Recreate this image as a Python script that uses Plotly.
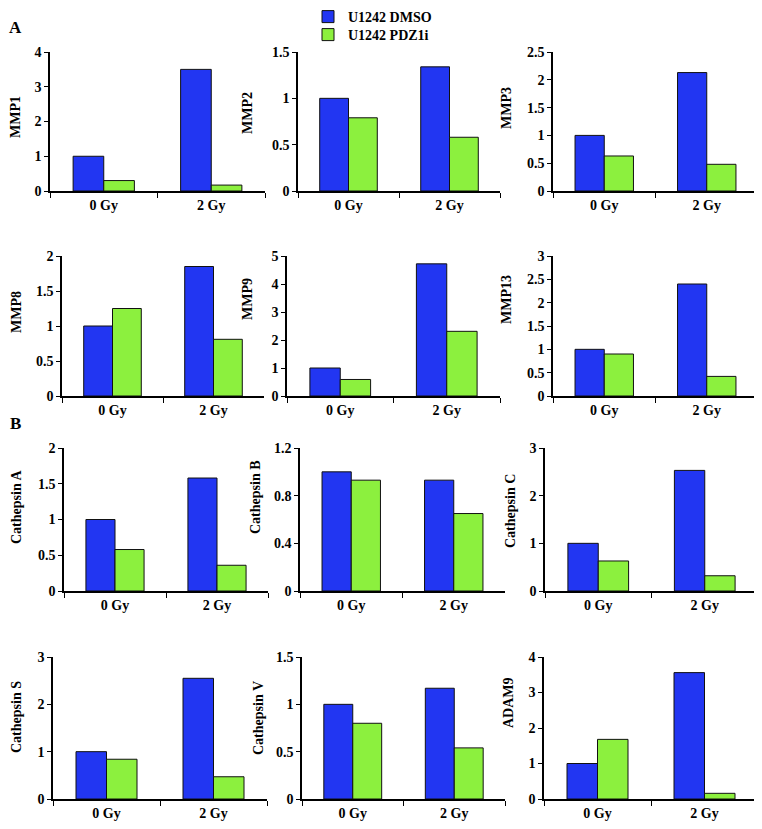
import plotly.graph_objects as go
from plotly.subplots import make_subplots

# the page body has an 8px margin, so the figure is drawn 8px in from the
# window corner; positions below are window pixels and get shifted by OFF
OFF = 8
W, H = 762 - OFF, 829 - OFF


def px_x(v):
    return (v - OFF) / W


def px_y(v):
    return 1 - (v - OFF) / H


doses = ["0 Gy", "2 Gy"]
genes = ["MMP1", "MMP2", "MMP3", "MMP8", "MMP9", "MMP13",
         "Cathepsin A", "Cathepsin B", "Cathepsin C",
         "Cathepsin S", "Cathepsin V", "ADAM9"]

dmso = [[1.0, 3.5], [1.0, 1.34], [1.0, 2.13],
        [1.0, 1.85], [1.0, 4.72], [1.0, 2.40],
        [1.0, 1.58], [1.0, 0.93], [1.0, 2.53],
        [1.0, 2.55], [1.0, 1.17], [1.0, 3.56]]
pdz1i = [[0.30, 0.17], [0.79, 0.58], [0.63, 0.48],
         [1.25, 0.81], [0.59, 2.31], [0.90, 0.42],
         [0.58, 0.36], [0.93, 0.65], [0.63, 0.32],
         [0.84, 0.47], [0.80, 0.54], [1.68, 0.16]]

y_max = [4, 1.5, 2.5, 2, 5, 3, 2, 1.2, 3, 3, 1.5, 4]
y_step = [1, 0.5, 0.5, 0.5, 1, 0.5, 0.5, 0.4, 1, 1, 0.5, 1]

# panel boxes in pixels: (x0, x1) per row/col, (top, bottom) per row
row_y = [(52, 191), (256, 396), (448, 591), (657, 799)]
col_x = [[(50, 265), (298, 500), (553, 758)],
         [(62, 264), (287, 500), (553, 758)],
         [(64, 268), (300, 505), (545, 758)],
         [(53, 267), (302, 505), (544, 758)]]
# y-title centres in pixels
title_pos = [(16, 117), (248, 113), (506, 108),
             (16, 312), (248, 299), (507, 300),
             (16, 507), (255, 497), (510, 511),
             (16, 717), (258, 718), (508, 703)]

BLUE = "#2236f2"
GREEN = "#8cf03e"
FONT = "Liberation Serif"

fig = make_subplots(rows=4, cols=3)

for i, g in enumerate(genes):
    r, c = i // 3 + 1, i % 3 + 1
    fig.add_trace(go.Bar(x=doses, y=dmso[i], name="U1242 DMSO",
                         marker=dict(color=BLUE, line=dict(color="#111111", width=1)),
                         showlegend=(i == 0), legend="legend"), row=r, col=c)
    fig.add_trace(go.Bar(x=doses, y=pdz1i[i], name="U1242 PDZ1i",
                         marker=dict(color=GREEN, line=dict(color="#111111", width=1)),
                         showlegend=(i == 0), legend="legend2"), row=r, col=c)
    n = "" if i == 0 else str(i + 1)
    x0, x1 = col_x[r - 1][c - 1]
    t, b = row_y[r - 1]
    fig.layout["xaxis" + n].update(
        domain=[px_x(x0), px_x(x1)], showline=True, linecolor="black", linewidth=1.5,
        ticks="outside", tickson="boundaries", ticklen=5, tickcolor="black",
        tickfont=dict(family=FONT, size=14, color="black", weight="bold"),
        showgrid=False, zeroline=False, automargin=False)
    fig.layout["yaxis" + n].update(
        domain=[px_y(b), px_y(t)], range=[0, y_max[i]], dtick=y_step[i],
        showline=True, linecolor="black", linewidth=1.5,
        ticks="outside", ticklen=4, tickcolor="black",
        tickfont=dict(family=FONT, size=14, color="black", weight="bold"),
        showgrid=False, zeroline=False, automargin=False)
    tx, ty = title_pos[i]
    fig.add_annotation(text=g, x=px_x(tx), y=px_y(ty), xref="paper", yref="paper",
                       xanchor="center", yanchor="middle",
                       textangle=-90, showarrow=False,
                       font=dict(family=FONT, size=14, color="black", weight="bold"))

for lab, (px, py) in [("A", (15, 27)), ("B", (15, 423))]:
    fig.add_annotation(text=lab, x=px_x(px), y=px_y(py), xref="paper", yref="paper",
                       xanchor="center", yanchor="middle", showarrow=False,
                       font=dict(family=FONT, size=17, color="black", weight="bold"))

leg = dict(xanchor="left", yanchor="top", itemwidth=30, bgcolor="rgba(0,0,0,0)",
           font=dict(family=FONT, size=14, color="black", weight="bold"))

fig.update_layout(
    width=W, height=H, margin=dict(l=0, r=0, t=0, b=0, autoexpand=False),
    plot_bgcolor="white", paper_bgcolor="white",
    barmode="group", bargap=0.43, bargroupgap=0,
    legend=dict(leg, x=px_x(308), y=px_y(1)),
    legend2=dict(leg, x=px_x(308), y=px_y(19)),
)

fig.write_html("out.html")
